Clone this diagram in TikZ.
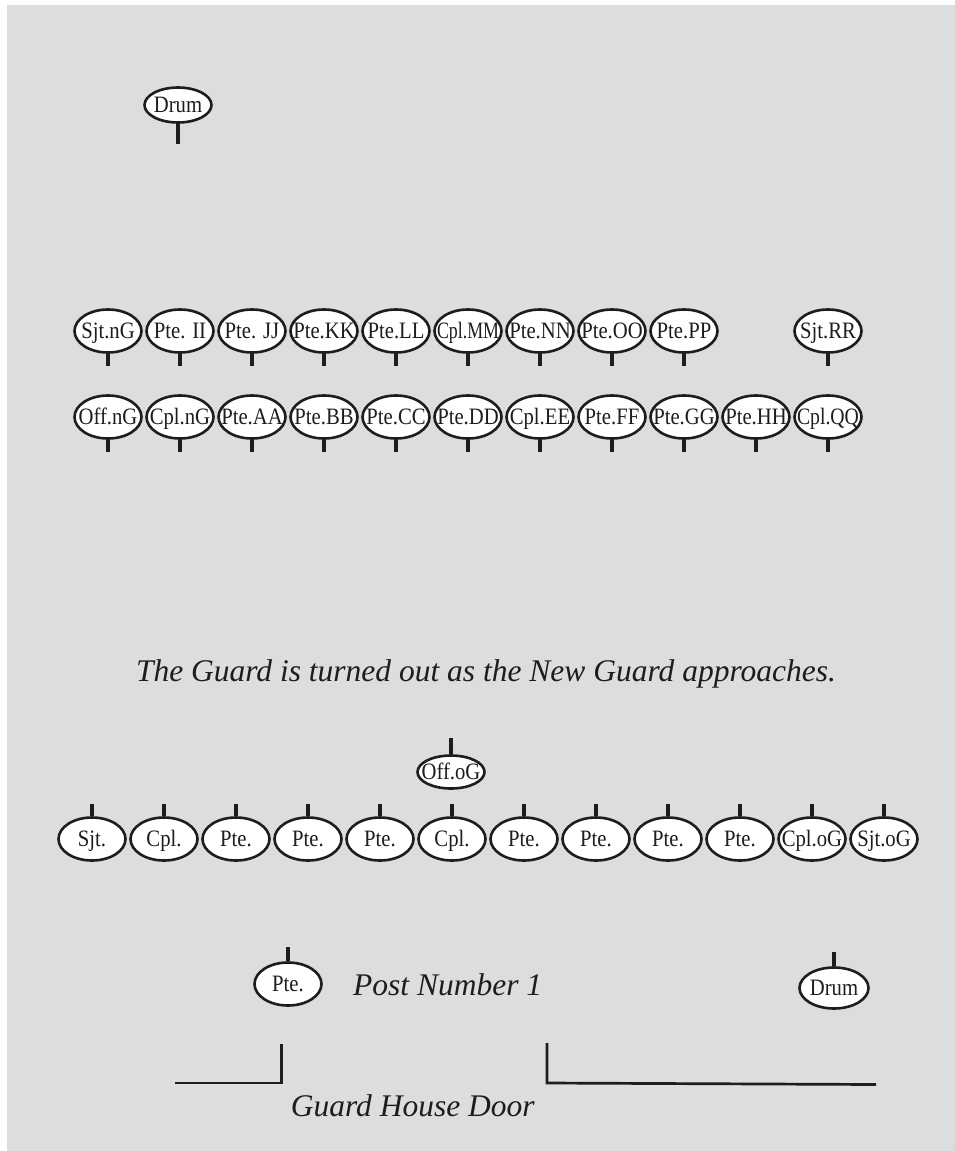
\documentclass[tikz,border=0pt]{standalone}
\usepackage{fontspec}
\setmainfont{Liberation Serif}
\usepackage{graphicx}
\usetikzlibrary{shapes.geometric}
\definecolor{bggrey}{RGB}{220,221,223}
\definecolor{ink}{RGB}{30,28,29}
\newcommand{\fitlbl}[1]{\sbox0{\scalebox{0.88}[1]{#1}}\ifdim\wd0>62pt\resizebox{62pt}{\height}{#1}\else\usebox0\fi}
\tikzset{
  soldier/.style={ellipse, draw=ink, fill=white, line width=2.6pt,
    minimum width=67pt, minimum height=43pt, inner sep=0pt, text=ink,
    font=\fontsize{23.5}{25}\selectfont},
  stem/.style={draw=ink, line width=4pt},
  caption/.style={font=\fontsize{31.5}{34}\selectfont\itshape, inner sep=0pt, anchor=base, text=ink},
  wall/.style={draw=ink, line width=2.7pt},
}
\newcommand{\sol}[4][]{\node[soldier,#1] (#2) at (#3) {\makebox[0pt]{\raisebox{-0.33em}[0pt][0pt]{\fitlbl{#4}}}};}
\begin{document}
\begin{tikzpicture}[x=1pt,y=-1pt]
\useasboundingbox (0,0) rectangle (955,1151);
\fill[white] (0,0) rectangle (955,1151);
\fill[bggrey] (7,5) rectangle (955,1151);

% Drum (top)
\sol[minimum height=35pt]{drumA}{178,105}{Drum}
\draw[stem] (drumA.south) -- ++(0,20);

% New guard, front rank
\foreach \lbl/\x [count=\i] in {Sjt.nG/108, Pte. II/180, Pte. JJ/252, Pte.KK/324, Pte.LL/396, Cpl.MM/468, Pte.NN/540, Pte.OO/612, Pte.PP/684, Sjt.RR/828}{
  \sol{a\i}{\x,331}{\lbl}
  \draw[stem] (a\i.south) -- ++(0,12);
}
% New guard, rear rank
\foreach \lbl/\x [count=\i] in {Off.nG/108, Cpl.nG/180, Pte.AA/252, Pte.BB/324, Pte.CC/396, Pte.DD/468, Cpl.EE/540, Pte.FF/612, Pte.GG/684, Pte.HH/756, Cpl.QQ/828}{
  \sol{b\i}{\x,417}{\lbl}
  \draw[stem] (b\i.south) -- ++(0,12);
}

\node[caption] (cap) at (486,681.7) {The Guard is turned out as the New Guard approaches.};

% Old guard officer
\sol[minimum height=33pt]{offo}{451,772}{Off.oG}
\draw[stem] (offo.north) -- ++(0,-16);

% Old guard rank
\foreach \lbl/\x [count=\i] in {Sjt./92, Cpl./164, Pte./236, Pte./308, Pte./380, Cpl./452, Pte./524, Pte./596, Pte./668, Pte./740, Cpl.oG/812, Sjt.oG/884}{
  \sol{c\i}{\x,839}{\lbl}
  \draw[stem] (c\i.north) -- ++(0,-12);
}

% Sentry and drum
\sol{post}{288,984}{Pte.}
\draw[stem] (post.north) -- ++(0,-14);
\node[caption] (pn) at (447.7,995) {Post Number 1};
\sol[minimum height=41pt, minimum width=69pt]{drumB}{834,988}{Drum}
\draw[stem] (drumB.north) -- ++(0,-14);

% Guard house walls
\coordinate (wl1) at (175,1083);
\coordinate (wl2) at (281.7,1083);
\coordinate (wl3) at (281.7,1044);
\coordinate (wr1) at (547,1043);
\coordinate (wr2) at (547,1083);
\coordinate (wr3) at (876,1084.5);
\draw[wall] (wl1) -- (wl2) -- (wl3);
\draw[wall] (wr1) -- (wr2) -- (wr3);
\node[caption] (door) at (412.8,1116.7) {Guard House Door};
\end{tikzpicture}
\end{document}
